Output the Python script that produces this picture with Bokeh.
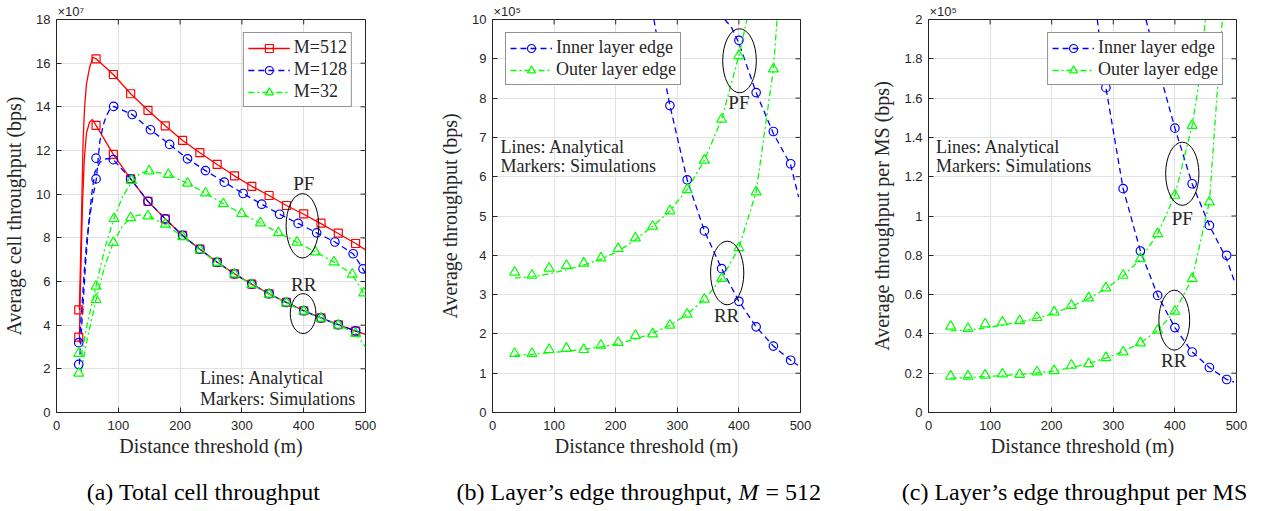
import math
from bokeh.plotting import figure
from bokeh.models import (Range1d, FixedTicker, Legend, LegendItem, Label,
                          CustomJSTickFormatter)
from bokeh.layouts import row, column
from bokeh.embed import file_html
from bokeh.resources import INLINE

RED = "#FF0000"; BLUE = "#0000FF"; GREEN = "#00FF00"; AX = "#262626"; GRID = "#E2E2E2"
SERIF = "Liberation Serif"; SANS = "Liberation Sans"

# ---------------- Panel (a): total cell throughput (x1e7 bps) ----------------
xa = [36, 64, 92, 120, 148, 176, 204, 232, 260, 288, 316, 344, 372, 400, 428, 456, 484]
a512_pf_sim = [4.7, 16.2, 15.48, 14.6, 13.84, 13.13, 12.46, 11.9, 11.36, 10.84, 10.36, 9.94, 9.48, 9.1, 8.67, 8.22, 7.74]
a512_rr_sim = [3.45, 13.15, 11.82, 10.7, 9.67, 8.87, 8.11, 7.48, 6.88, 6.35, 5.88, 5.44, 5.04, 4.66, 4.33, 4.02, 3.73]
a128_rr_sim = [2.2, 11.65, 11.58, 10.7, 9.67, 8.87, 8.11, 7.48, 6.88, 6.35, 5.88, 5.44, 5.04, 4.66, 4.33, 4.02, 3.74]
a32_rr_sim = [1.8, 5.17, 7.78, 8.92, 9.0, 8.62, 8.05, 7.45, 6.86, 6.34, 5.86, 5.42, 5.02, 4.64, 4.32, 4.0, 3.62]
xa_128pf = [36, 64, 92.5, 122.5, 152, 183, 212, 241, 271.5, 302, 332, 361, 391, 421, 450.5, 480, 496]
a128_pf_sim = [3.2, 10.7, 14.02, 13.65, 12.95, 12.28, 11.62, 11.08, 10.55, 10.03, 9.54, 9.08, 8.66, 8.23, 7.81, 7.27, 6.58]
xa_32pf = [36, 64, 93, 121.5, 150, 181, 212, 241, 270, 299.5, 330, 359, 389, 419, 449, 478.5, 497]
a32_pf_sim = [2.7, 5.78, 8.88, 10.63, 11.06, 10.9, 10.5, 10.05, 9.56, 9.11, 8.68, 8.23, 7.8, 7.35, 6.89, 6.33, 5.47]

la512_pf_x = [37, 38.5, 40.5, 43, 45.5, 48.5, 53.5, 59, 64, 92, 120, 148, 176, 204, 232, 260, 288, 316, 344, 372, 400, 428, 456, 484, 500]
la512_pf_y = [4.7, 6.5, 9.0, 12.4, 14.0, 15.05, 15.8, 16.27, 16.2, 15.48, 14.6, 13.84, 13.13, 12.46, 11.9, 11.36, 10.84, 10.36, 9.94, 9.48, 9.08, 8.65, 8.2, 7.74, 7.45]
la512_rr_x = [37, 39, 42, 45, 48.5, 53.5, 58, 64, 92, 120, 148, 176, 204, 232, 260, 288, 316, 344, 372, 400, 428, 456, 484, 500]
la512_rr_y = [3.45, 6.0, 9.5, 11.6, 12.8, 13.3, 13.42, 13.15, 11.82, 10.7, 9.67, 8.87, 8.11, 7.48, 6.88, 6.35, 5.88, 5.44, 5.04, 4.66, 4.33, 4.02, 3.73, 3.58]
la128_pf_x = [37, 41, 45, 49, 54, 59, 64.5, 70, 76, 81, 86, 92.5, 122.5, 152, 183, 212, 241, 271.5, 302, 332, 361, 391, 421, 450.5, 480, 496, 500]
la128_pf_y = [3.2, 4.8, 6.5, 7.9, 9.0, 9.9, 10.7, 12.4, 13.2, 13.6, 13.88, 14.02, 13.65, 12.95, 12.28, 11.62, 11.08, 10.55, 10.03, 9.54, 9.08, 8.66, 8.23, 7.81, 7.27, 6.58, 6.35]
la128_rr_x = [37, 42, 47, 52, 57, 62, 70, 76, 82, 88, 92, 120, 148, 176, 204, 232, 260, 288, 316, 344, 372, 400, 428, 456, 484, 500]
la128_rr_y = [2.2, 4.5, 6.8, 8.6, 10.0, 11.0, 11.45, 11.58, 11.63, 11.62, 11.58, 10.7, 9.67, 8.87, 8.11, 7.48, 6.88, 6.35, 5.88, 5.44, 5.04, 4.66, 4.33, 4.02, 3.74, 3.58]
la32_pf_x = [40, 50, 64, 78, 93, 107, 121.5, 135, 150, 181, 212, 241, 270, 299.5, 330, 359, 389, 419, 449, 478.5, 497, 500]
la32_pf_y = [2.6, 4.1, 5.78, 7.5, 8.88, 9.9, 10.55, 10.95, 11.06, 10.9, 10.5, 10.05, 9.56, 9.11, 8.68, 8.23, 7.8, 7.35, 6.89, 6.33, 5.47, 5.3]
la32_rr_x = [40, 50, 64, 78, 92, 106, 120, 134, 148, 176, 204, 232, 260, 288, 316, 344, 372, 400, 428, 456, 484, 500]
la32_rr_y = [1.9, 3.4, 5.17, 6.7, 7.78, 8.5, 8.92, 9.05, 9.0, 8.62, 8.05, 7.45, 6.86, 6.34, 5.86, 5.42, 5.02, 4.64, 4.32, 4.0, 3.62, 3.0]

# ---------------- Panel (b): layer edge throughput, M=512 (x1e5 bps) ----------------
xb_in_pf = [400, 428, 456, 484]
b_in_pf_sim = [9.47, 8.14, 7.15, 6.33]
lb_in_pf_x = [377, 388, 400, 428, 456, 484, 497]
lb_in_pf_y = [10.0, 9.8, 9.4, 8.14, 7.1, 6.3, 5.48]
xb_in_rr = [288, 316, 344, 372, 400, 428, 456, 484]
b_in_rr_sim = [7.81, 5.92, 4.62, 3.66, 2.83, 2.18, 1.69, 1.33]
lb_in_rr_x = [262, 275, 288, 316, 344, 372, 400, 428, 456, 484, 496]
lb_in_rr_y = [10.0, 8.85, 7.81, 5.92, 4.62, 3.66, 2.83, 2.18, 1.69, 1.33, 1.2]
xb_out_pf = [36, 64, 92, 120, 148, 176, 204, 232, 260, 288, 316, 344, 372, 400]
b_out_pf_sim = [3.57, 3.49, 3.67, 3.74, 3.8, 3.93, 4.17, 4.44, 4.74, 5.13, 5.67, 6.42, 7.46, 9.08]
lb_out_pf_x = [36, 64, 92, 120, 148, 176, 204, 232, 260, 288, 316, 344, 372, 400, 413]
lb_out_pf_y = [3.42, 3.45, 3.53, 3.63, 3.75, 3.9, 4.1, 4.4, 4.74, 5.13, 5.67, 6.42, 7.46, 9.08, 10.0]
xb_out_rr = [36, 64, 92, 120, 148, 176, 204, 232, 260, 288, 316, 344, 372, 400, 428, 456]
b_out_rr_sim = [1.5, 1.5, 1.6, 1.63, 1.6, 1.71, 1.78, 1.96, 2.0, 2.22, 2.5, 2.88, 3.41, 4.19, 5.61, 8.74]
lb_out_rr_x = [36, 64, 92, 120, 148, 176, 204, 232, 260, 288, 316, 344, 372, 400, 428, 456, 462]
lb_out_rr_y = [1.45, 1.48, 1.52, 1.56, 1.61, 1.67, 1.75, 1.87, 2.02, 2.22, 2.5, 2.88, 3.41, 4.19, 5.61, 8.74, 10.0]

# ---------------- Panel (c): layer edge throughput per MS (x1e5 bps) ----------------
xc_in_pf = [400, 428, 456, 484]
c_in_pf_sim = [1.447, 1.164, 0.952, 0.80]
lc_in_pf_x = [353, 376, 400, 428, 456, 484, 496]
lc_in_pf_y = [2.0, 1.72, 1.447, 1.164, 0.952, 0.78, 0.673]
xc_in_rr = [288, 316, 344, 372, 400, 428, 456, 484]
c_in_rr_sim = [1.653, 1.139, 0.822, 0.596, 0.432, 0.308, 0.229, 0.168]
lc_in_rr_x = [274, 288, 316, 344, 372, 400, 428, 456, 484, 496]
lc_in_rr_y = [2.0, 1.653, 1.139, 0.822, 0.596, 0.432, 0.308, 0.229, 0.168, 0.155]
xc_out_pf = [36, 64, 92, 120, 148, 176, 204, 232, 260, 288, 316, 344, 372, 400, 428]
c_out_pf_sim = [0.439, 0.427, 0.45, 0.46, 0.467, 0.483, 0.512, 0.545, 0.583, 0.634, 0.698, 0.783, 0.91, 1.105, 1.461]
lc_out_pf_x = [36, 64, 92, 120, 148, 176, 204, 232, 260, 288, 316, 344, 372, 400, 428, 439, 449.6]
lc_out_pf_y = [0.415, 0.42, 0.43, 0.445, 0.46, 0.48, 0.505, 0.54, 0.58, 0.63, 0.695, 0.78, 0.91, 1.105, 1.461, 1.68, 2.0]
xc_out_rr = [36, 64, 92, 120, 148, 176, 204, 232, 260, 288, 316, 344, 372, 400, 428, 456]
c_out_rr_sim = [0.185, 0.185, 0.19, 0.196, 0.193, 0.206, 0.213, 0.24, 0.248, 0.279, 0.308, 0.354, 0.418, 0.515, 0.681, 1.071]
lc_out_rr_x = [36, 64, 92, 120, 148, 176, 204, 232, 260, 288, 316, 344, 372, 400, 428, 456, 466, 477]
lc_out_rr_y = [0.175, 0.178, 0.183, 0.188, 0.194, 0.201, 0.212, 0.228, 0.25, 0.277, 0.31, 0.354, 0.418, 0.515, 0.681, 1.071, 1.51, 2.0]

# ellipses (x, y, width, height)
ell_a = dict(x=[398, 399], y=[8.55, 4.53], w=[53, 41.5], h=[2.95, 1.83])
ell_b = dict(x=[401, 381], y=[8.95, 3.55], w=[54.6, 54], h=[1.63, 1.62])
ell_c = dict(x=[412, 399], y=[1.215, 0.47], w=[54, 50], h=[0.322, 0.305])

x_ticks = [0, 100, 200, 300, 400, 500]
ya_ticks = list(range(0, 19, 2))
yb_ticks = list(range(0, 11))
yc_ticks = [0, 0.2, 0.4, 0.6, 0.8, 1.0, 1.2, 1.4, 1.6, 1.8, 2.0]

DASH_B = "6 4"
DASH_G = "6 3 2 3"
MAIN_H = 466


def make_fig(width, ymax, yticks, bl, br, ylabel, exp, yfmt=None):
    p = figure(width=width, height=MAIN_H, x_range=Range1d(0, 500), y_range=Range1d(0, ymax),
               output_backend="svg", toolbar_location=None,
               min_border_left=bl, min_border_right=br, min_border_top=19,
               min_border_bottom=MAIN_H - 412)
    p.background_fill_color = "white"
    p.border_fill_color = "white"
    p.outline_line_color = AX
    p.outline_line_width = 1
    p.title.text = "\u00d710" + exp
    p.title.align = "left"
    p.title.offset = 1
    p.title.standoff = 1
    p.title.text_font = SANS
    p.title.text_font_size = "13px"
    p.title.text_font_style = "normal"
    p.title.text_color = AX
    xt = FixedTicker(ticks=x_ticks)
    yt = FixedTicker(ticks=yticks)
    p.xaxis.ticker = xt
    p.yaxis.ticker = yt
    if yfmt is not None:
        p.yaxis.formatter = yfmt
    for ax in [p.xaxis[0], p.yaxis[0]]:
        ax.major_tick_in = 5
        ax.major_tick_out = 0
        ax.minor_tick_line_color = None
        ax.axis_line_color = AX
        ax.major_tick_line_color = AX
        ax.major_label_text_font = SANS
        ax.major_label_text_font_size = "13px"
        ax.major_label_text_color = AX
        ax.axis_label_text_font = SERIF
        ax.axis_label_text_font_style = "normal"
        ax.axis_label_text_font_size = "20px"
        ax.axis_label_text_color = AX
    p.xaxis.axis_label = "Distance threshold (m)"
    p.xaxis.major_label_standoff = 8
    p.xaxis.axis_label_standoff = 2
    p.yaxis.axis_label = ylabel
    p.yaxis.major_label_standoff = 6
    p.yaxis.axis_label_standoff = 8
    p.xgrid.ticker = xt
    p.ygrid.ticker = yt
    p.xgrid.grid_line_color = GRID
    p.ygrid.grid_line_color = GRID
    # inward ticks on the top and right edges (half of each dash is clipped by the frame)
    p.scatter(x=x_ticks, y=[ymax] * len(x_ticks), marker="dash", angle=math.pi / 2, size=10,
              line_color=AX, line_width=1)
    p.scatter(x=[500] * len(yticks), y=yticks, marker="dash", size=10, line_color=AX, line_width=1)
    return p


def ln(p, x, y, color, dash):
    return p.line(x, y, line_color=color, line_width=1.3, line_dash=dash)


def mk(p, x, y, color, marker, size):
    return p.scatter(x, y, marker=marker, size=size, line_color=color, fill_color=None, line_width=1.2)


def txt(p, x, y, text, size="18px", align="left", style="normal", color=AX):
    p.add_layout(Label(x=x, y=y, text=text, text_font=SERIF, text_font_size=size, text_color=color,
                       text_align=align, text_baseline="middle", text_font_style=style))


def ellipses(p, e):
    p.ellipse(x=e["x"], y=e["y"], width=e["w"], height=e["h"], fill_color=None,
              line_color="black", line_width=1)


def legend(p, items, loc):
    lg = Legend(items=items, location=loc, margin=13, padding=4, spacing=1,
                label_text_font=SERIF, label_text_font_size="18px", label_text_color=AX,
                glyph_width=42, glyph_height=20, label_height=20, label_standoff=4,
                border_line_color=AX, border_line_width=1, background_fill_alpha=1)
    p.add_layout(lg)


# ---- (a)
pa = make_fig(420, 18, ya_ticks, 55, 55, "Average cell throughput (bps)", "\u2077")
r1 = ln(pa, la512_pf_x, la512_pf_y, RED, "solid")
ln(pa, la512_rr_x, la512_rr_y, RED, "solid")
r2 = ln(pa, la128_pf_x, la128_pf_y, BLUE, DASH_B)
ln(pa, la128_rr_x, la128_rr_y, BLUE, DASH_B)
r3 = ln(pa, la32_pf_x, la32_pf_y, GREEN, DASH_G)
ln(pa, la32_rr_x, la32_rr_y, GREEN, DASH_G)
m1 = mk(pa, xa, a512_pf_sim, RED, "square", 8)
mk(pa, xa, a512_rr_sim, RED, "square", 8)
m2 = mk(pa, xa_128pf, a128_pf_sim, BLUE, "circle", 8.5)
mk(pa, xa, a128_rr_sim, BLUE, "circle", 8.5)
m3 = mk(pa, xa_32pf, a32_pf_sim, GREEN, "triangle", 10)
mk(pa, xa, a32_rr_sim, GREEN, "triangle", 10)
ellipses(pa, ell_a)
txt(pa, 400, 10.5, "PF", "19px", "center")
txt(pa, 400, 5.86, "RR", "19px", "center")
txt(pa, 232, 1.57, "Lines: Analytical")
txt(pa, 232, 0.6, "Markers: Simulations")
legend(pa, [LegendItem(label="M=512", renderers=[r1, m1]),
            LegendItem(label="M=128", renderers=[r2, m2]),
            LegendItem(label="M=32", renderers=[r3, m3])], "top_right")

# ---- (b)
pb = make_fig(420, 10, yb_ticks, 72, 40, "Average throughput (bps)", "\u2075")
b1 = ln(pb, lb_in_pf_x, lb_in_pf_y, BLUE, DASH_B)
ln(pb, lb_in_rr_x, lb_in_rr_y, BLUE, DASH_B)
b2 = ln(pb, lb_out_pf_x, lb_out_pf_y, GREEN, DASH_G)
ln(pb, lb_out_rr_x, lb_out_rr_y, GREEN, DASH_G)
bm1 = mk(pb, xb_in_pf, b_in_pf_sim, BLUE, "circle", 8.5)
mk(pb, xb_in_rr, b_in_rr_sim, BLUE, "circle", 8.5)
bm2 = mk(pb, xb_out_pf, b_out_pf_sim, GREEN, "triangle", 10)
mk(pb, xb_out_rr, b_out_rr_sim, GREEN, "triangle", 10)
ellipses(pb, ell_b)
txt(pb, 400, 7.88, "PF", "19px", "center")
txt(pb, 380, 2.47, "RR", "19px", "center")
txt(pb, 13, 6.75, "Lines: Analytical")
txt(pb, 13, 6.27, "Markers: Simulations")
legend(pb, [LegendItem(label="Inner layer edge", renderers=[b1, bm1]),
            LegendItem(label="Outer layer edge", renderers=[b2, bm2])], "top_left")

# ---- (c)
fmt = CustomJSTickFormatter(code="return (Math.round(tick*10)/10).toString();")
pc = make_fig(421, 2, yc_ticks, 88, 25, "Average throughput per MS (bps)", "\u2075", fmt)
c1 = ln(pc, lc_in_pf_x, lc_in_pf_y, BLUE, DASH_B)
ln(pc, lc_in_rr_x, lc_in_rr_y, BLUE, DASH_B)
c2 = ln(pc, lc_out_pf_x, lc_out_pf_y, GREEN, DASH_G)
ln(pc, lc_out_rr_x, lc_out_rr_y, GREEN, DASH_G)
cm1 = mk(pc, xc_in_pf, c_in_pf_sim, BLUE, "circle", 8.5)
mk(pc, xc_in_rr, c_in_rr_sim, BLUE, "circle", 8.5)
cm2 = mk(pc, xc_out_pf, c_out_pf_sim, GREEN, "triangle", 10)
mk(pc, xc_out_rr, c_out_rr_sim, GREEN, "triangle", 10)
ellipses(pc, ell_c)
txt(pc, 412, 0.987, "PF", "19px", "center")
txt(pc, 398, 0.266, "RR", "19px", "center")
txt(pc, 12, 1.351, "Lines: Analytical")
txt(pc, 12, 1.254, "Markers: Simulations")
legend(pc, [LegendItem(label="Inner layer edge", renderers=[c1, cm1]),
            LegendItem(label="Outer layer edge", renderers=[c2, cm2])], "top_right")

# ---- captions strip (coordinates in pixels)
CAP_H = 511 - MAIN_H
cap = figure(width=1261, height=CAP_H, x_range=Range1d(0, 1261), y_range=Range1d(0, CAP_H),
             output_backend="svg", toolbar_location=None, min_border=0)
cap.axis.visible = False
cap.grid.visible = False
cap.outline_line_color = None
cy = CAP_H - 25
txt(cap, 203, cy, "(a) Total cell throughput", "24px", "center", color="black")
txt(cap, 456, cy, "(b) Layer\u2019s edge throughput,", "24px", color="black")
txt(cap, 738, cy, "M", "24px", style="italic", color="black")
txt(cap, 765, cy, "= 512", "24px", color="black")
txt(cap, 1074, cy, "(c) Layer\u2019s edge throughput per MS", "24px", "center", color="black")

layout = column(row(pa, pb, pc), cap)
open("out.html", "w").write(file_html(layout, INLINE))
